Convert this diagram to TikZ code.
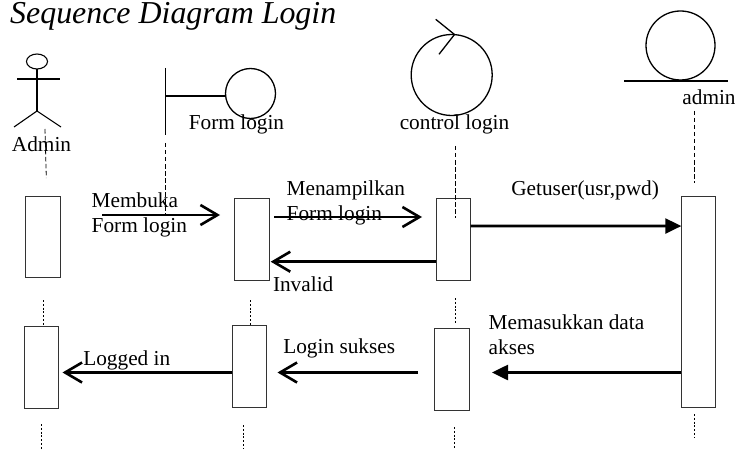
\documentclass[tikz,border=0pt]{standalone}
\usepackage{fontspec}
\setmainfont{Liberation Serif}
\usetikzlibrary{arrows.meta,shapes.geometric}
\tikzset{
    lbl/.style={inner sep=0pt, outer sep=0pt, anchor=base west, align=left, font=\fontsize{21.3}{24.6}\selectfont},
    namelbl/.style={inner sep=0pt, outer sep=0pt, anchor=base, font=\fontsize{21.3}{24.6}\selectfont},
    activation/.style={draw=black!80, line width=0.9pt, inner sep=0pt, outer sep=0pt, minimum width=34.4pt},
    symbol/.style={draw, circle, line width=1.3pt, inner sep=0pt, outer sep=0pt},
    lifeline/.style={line width=0.8pt, dash pattern=on 4.5pt off 2.5pt},
    lifedot/.style={line width=0.8pt, dash pattern=on 2pt off 1.8pt},
    openmsg/.style={line width=2.6pt, -{Straight Barb[length=17pt, width=20pt, line width=2.6pt]}},
    fillmsg/.style={line width=2.6pt, -{Triangle[length=16pt, width=15pt]}}
}
\begin{document}
\begin{tikzpicture}[x=1pt, y=-1pt]
    \useasboundingbox (0,0) rectangle (735,449);

    % Title
    \node[inner sep=0pt, anchor=base west, font=\fontsize{31.9}{36}\selectfont\itshape] (title) at (10,24) {Sequence Diagram Login};

    % Actor
    \node[draw, ellipse, line width=1.1pt, inner sep=0pt, outer sep=0pt, minimum width=21pt, minimum height=15pt] (admin_head) at (37,61.5) {};
    \coordinate (admin_hip) at (37,111);
    \coordinate (admin_arm_l) at (17,79);
    \coordinate (admin_arm_r) at (60,79);
    \coordinate (admin_leg_l) at (14,127);
    \coordinate (admin_leg_r) at (61,127);
    \draw[line width=1.1pt] (admin_head) -- (admin_hip);
    \draw[line width=1.1pt] (admin_arm_l) -- (admin_arm_r);
    \draw[line width=1.1pt] (admin_leg_l) -- (admin_hip) -- (admin_leg_r);
    \node[namelbl] (admin_lbl) at (41.5,152) {Admin};

    % Boundary
    \node[symbol, minimum size=50pt] (form_circle) at (250.5,93.5) {};
    \coordinate (form_bar_t) at (165.5,68);
    \coordinate (form_bar_b) at (165.5,135);
    \coordinate (form_bar_m) at (165.5,96);
    \draw[line width=1.3pt] (form_bar_t) -- (form_bar_b);
    \draw[line width=1.3pt] (form_bar_m) -- (form_bar_m -| form_circle.west);
    \node[namelbl] (form_lbl) at (236.5,130) {Form login};

    % Control
    \node[symbol, minimum size=81pt] (ctrl_circle) at (451.7,75) {};
    \coordinate (ctrl_tip_a) at (435.7,19.3);
    \coordinate (ctrl_tip_b) at (454.5,34.5);
    \coordinate (ctrl_tip_c) at (439,54.3);
    \draw[line width=1.3pt] (ctrl_tip_a) -- (ctrl_tip_b) -- (ctrl_tip_c);
    \node[namelbl] (ctrl_lbl) at (454.5,130) {control login};

    % Entity
    \node[symbol, minimum size=69pt] (ent_circle) at (680.5,45.5) {};
    \coordinate (ent_line_l) at (624,81);
    \coordinate (ent_line_r) at (728,81);
    \draw[line width=1.3pt] (ent_line_l) -- (ent_line_r);
    \node[namelbl] (ent_lbl) at (709,105) {admin};

    % Activations, top row
    \node[activation, minimum height=81.7pt] (act_admin) at (42.85,236.85) {};
    \node[activation, minimum height=82pt] (act_form) at (252,239) {};
    \node[activation, minimum height=82pt] (act_ctrl) at (453.3,239) {};
    \node[activation, minimum height=211.3pt] (act_ent) at (698.5,301.65) {};

    % Activations, bottom row
    \node[activation, minimum height=82pt] (ret_admin) at (41.35,367.3) {};
    \node[activation, minimum height=82.3pt] (ret_form) at (249.5,366.15) {};
    \node[activation, minimum height=82pt] (ret_ctrl) at (451.85,369.3) {};

    % Lifelines
    \coordinate (ll_a1) at (45,129);
    \coordinate (ll_a2) at (46.3,178);
    \coordinate (ll_f1) at (165,143);
    \coordinate (ll_f2) at (165,215);
    \coordinate (ll_c1) at (455.5,146);
    \coordinate (ll_c2) at (455.5,218);
    \coordinate (ll_e1) at (694.3,111);
    \coordinate (ll_e2) at (694.3,183);
    \draw[lifeline] (ll_a1) -- (ll_a2);
    \draw[lifeline] (ll_f1) -- (ll_f2);
    \draw[lifeline] (ll_c1) -- (ll_c2);
    \draw[lifeline] (ll_e1) -- (ll_e2);

    \coordinate (gap_a) at (43.3,300);
    \coordinate (gap_f) at (250,300);
    \coordinate (gap_c) at (455.7,298);
    \coordinate (gap_c2) at (455.7,323);
    \coordinate (end_a1) at (41.7,424);
    \coordinate (end_a2) at (41.7,449);
    \coordinate (end_f1) at (243.3,425);
    \coordinate (end_f2) at (243.3,449);
    \coordinate (end_c1) at (454,427);
    \coordinate (end_c2) at (454,449);
    \coordinate (end_e1) at (694.3,414);
    \coordinate (end_e2) at (694.3,438);
    \draw[lifedot] (gap_a) -- (gap_a |- ret_admin.north);
    \draw[lifedot] (gap_f) -- (gap_f |- ret_form.north);
    \draw[lifedot] (gap_c) -- (gap_c2);
    \draw[lifedot] (end_a1) -- (end_a2);
    \draw[lifedot] (end_f1) -- (end_f2);
    \draw[lifedot] (end_c1) -- (end_c2);
    \draw[lifedot] (end_e1) -- (end_e2);

    % Messages
    \coordinate (open_s) at (102,215);
    \coordinate (open_e) at (220,215);
    \coordinate (show_s) at (274,217);
    \coordinate (show_e) at (422,217);
    \coordinate (ret_e) at (492,372.5);
    \coordinate (sukses_s) at (418,372.5);
    \coordinate (sukses_e) at (277.5,372.5);
    \coordinate (logged_e) at (62.5,372.5);
    \draw[openmsg] (open_s) -- (open_e);
    \draw[openmsg] (show_s) -- (show_e);
    \draw[openmsg] ([yshift=-22.7pt]act_ctrl.west) -- ([xshift=1.5pt, yshift=-22.7pt]act_form.east);
    \draw[fillmsg] ([yshift=13pt]act_ctrl.east) -- ([yshift=75.6pt]act_ent.west);
    \draw[fillmsg] ([yshift=-70.85pt]act_ent.west) -- (ret_e);
    \draw[openmsg] (sukses_s) -- (sukses_e);
    \draw[openmsg] ([yshift=-6.35pt]ret_form.west) -- (logged_e);

    % Message labels
    \node[lbl] (open_lbl) at (91.7,232) {Membuka\\Form login};
    \node[lbl] (show_lbl) at (286.7,220) {Menampilkan\\Form login};
    \node[lbl] (inv_lbl) at (273,291) {Invalid};
    \node[lbl] (get_lbl) at (511.3,195) {Getuser(usr,pwd)};
    \node[lbl] (ret_lbl) at (488.7,354) {Memasukkan data\\akses};
    \node[lbl] (suk_lbl) at (283.3,353) {Login sukses};
    \node[lbl] (log_lbl) at (83.3,365) {Logged in};
\end{tikzpicture}
\end{document}
